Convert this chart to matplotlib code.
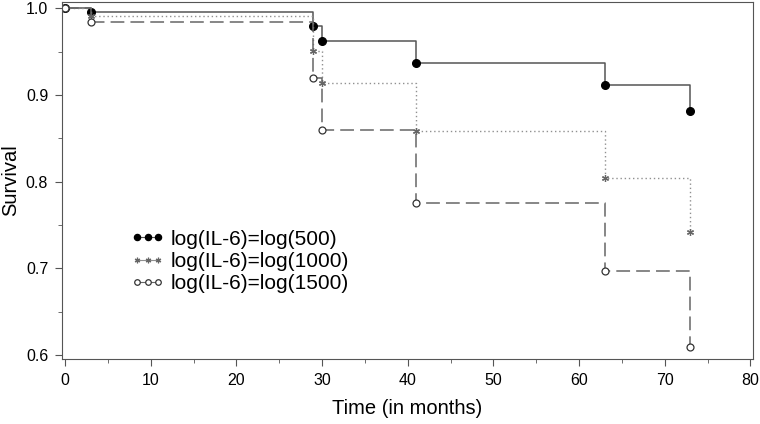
import numpy as np
from matplotlib import pyplot as plt
from matplotlib.ticker import MultipleLocator

plt.rcParams['font.family'] = ['Liberation Sans', 'DejaVu Sans']

# 数据：时间点与三条生存曲线
times = [0, 3, 29, 30, 41, 63, 73]
surv_500 = [1.0, 0.996, 0.979, 0.962, 0.937, 0.912, 0.882]
surv_1000 = [1.0, 0.991, 0.951, 0.914, 0.858, 0.804, 0.742]
surv_1500 = [1.0, 0.984, 0.920, 0.860, 0.776, 0.697, 0.610]
labels = ['log(IL-6)=log(500)', 'log(IL-6)=log(1000)', 'log(IL-6)=log(1500)']

fig = plt.figure(figsize=(7.6, 4.24), dpi=100)
ax = fig.add_axes([0.0816, 0.154, 0.9092, 0.841])

ax.step(times, surv_500, where='post', color='#555555', lw=1.1, ls='-',
        marker='o', ms=5.5, mfc='black', mec='black', label=labels[0])
ax.step(times, surv_1000, where='post', color='#909090', lw=1.0, ls=(0, (1, 2)),
        marker=(6, 2, 0), ms=5, mec='#666666', mew=0.9, label=labels[1])
ax.step(times, surv_1500, where='post', color='#666666', lw=1.1, ls=(0, (9, 4)),
        marker='o', ms=5, mfc='white', mec='#333333', mew=0.9, label=labels[2])

ax.set_xlim(-0.35, 80.3)
ax.set_ylim(0.596, 1.007)
ax.xaxis.set_major_locator(MultipleLocator(10))
ax.xaxis.set_minor_locator(MultipleLocator(5))
ax.yaxis.set_major_locator(MultipleLocator(0.1))
ax.yaxis.set_minor_locator(MultipleLocator(0.05))
ax.tick_params(which='both', direction='out', top=False, right=False,
               color='#555555', labelsize=11.5, pad=5)
ax.tick_params(which='major', length=5)
ax.tick_params(which='minor', length=3)
for s in ax.spines.values():
    s.set_color('#555555')

ax.set_xlabel('Time (in months)', fontsize=14.5, labelpad=8)
ax.set_ylabel('Survival', fontsize=14.5)
ax.yaxis.set_label_coords(-0.061, 0.5)

leg = ax.legend(loc='upper left', bbox_to_anchor=(0.088, 0.385), frameon=False,
                numpoints=3, handlelength=1.6, handletextpad=0.3, markerscale=0.8,
                labelspacing=0.15, fontsize=15, borderaxespad=0)
for line in leg.get_lines():
    line.set_linestyle('-')
    line.set_linewidth(0.8)

fig.savefig('out.png', dpi=100)
